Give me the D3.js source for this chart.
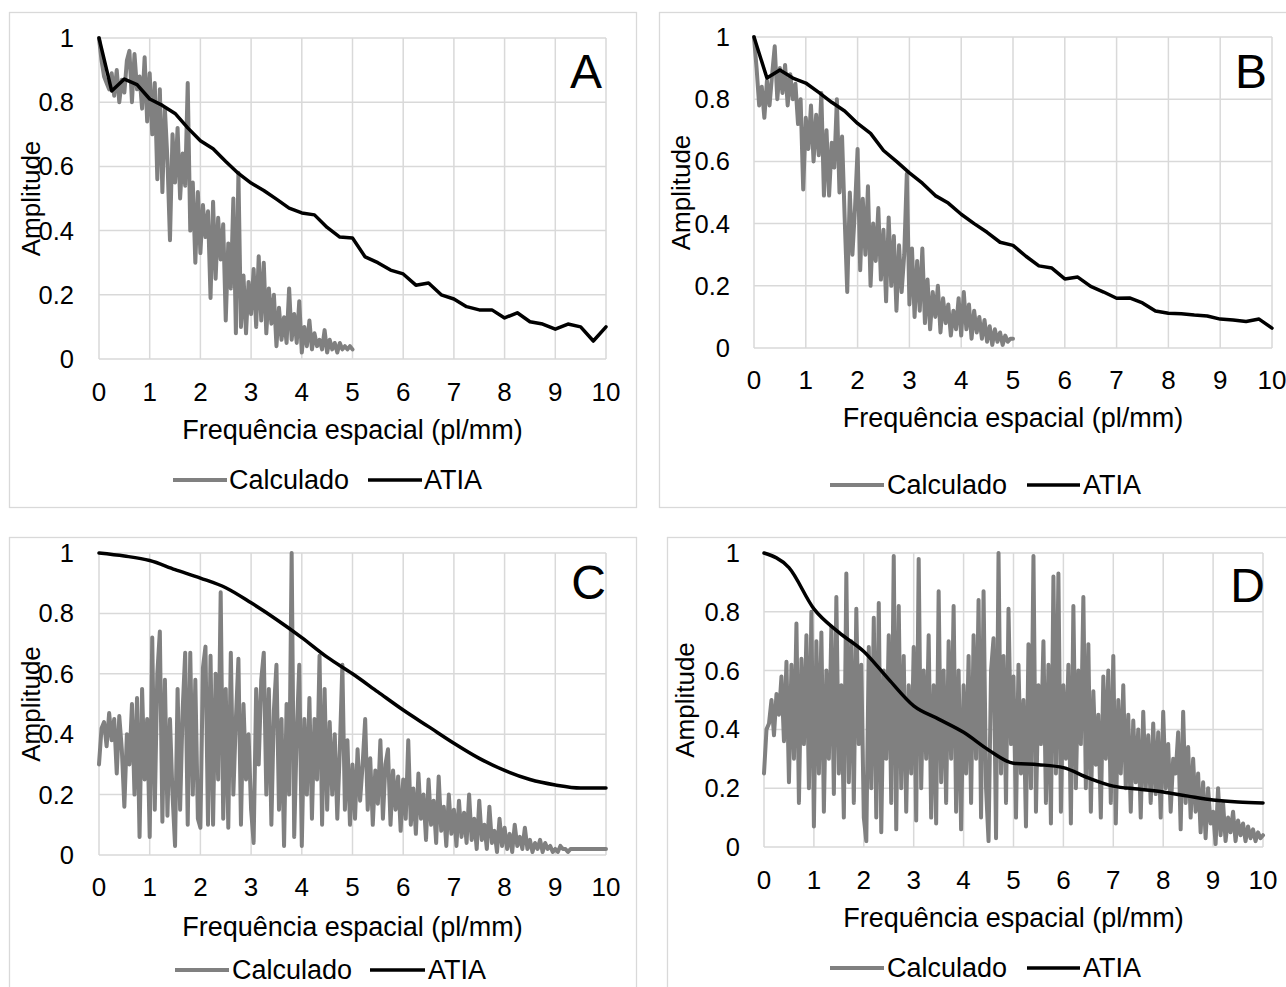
<!DOCTYPE html>
<html><head><meta charset="utf-8">
<script src="https://cdn.jsdelivr.net/npm/d3@7"></script>
<style>
html,body{margin:0;padding:0;background:#fff;}
svg{display:block;font-family:"Liberation Sans",Arial,sans-serif;}
</style></head>
<body>
<svg id="chart" width="1286" height="987"></svg>
<script>
// ---------- DATA ----------
const xTicks = [0,1,2,3,4,5,6,7,8,9,10];
const yTicks = [0,0.2,0.4,0.6,0.8,1];
const xTitle = "Frequência espacial (pl/mm)";
const yTitle = "Amplitude";
const seriesNames = ["Calculado","ATIA"];
const panelLetters = ["A","B","C","D"];

// ATIA curves
const atiaStepAB = 0.25;
const atiaA = [1.0,0.835,0.872,0.855,0.81,0.79,0.765,0.72,0.68,0.655,0.615,0.578,0.548,0.525,0.498,0.47,0.455,0.449,0.41,0.38,0.377,0.318,0.30,0.277,0.265,0.23,0.237,0.2,0.187,0.163,0.153,0.153,0.128,0.144,0.116,0.109,0.093,0.109,0.1,0.056,0.1];
const atiaB = [1.0,0.868,0.894,0.868,0.852,0.822,0.79,0.762,0.722,0.69,0.635,0.60,0.563,0.53,0.49,0.466,0.43,0.40,0.372,0.34,0.33,0.295,0.264,0.257,0.222,0.228,0.198,0.18,0.16,0.161,0.145,0.119,0.112,0.11,0.106,0.103,0.093,0.09,0.085,0.093,0.064];
const atiaStepCD = 0.5;
const atiaC = [1.0,0.99,0.975,0.945,0.917,0.885,0.835,0.78,0.72,0.655,0.6,0.54,0.48,0.425,0.37,0.32,0.28,0.25,0.232,0.222,0.222];
const atiaD = [1.0,0.95,0.81,0.73,0.665,0.57,0.48,0.435,0.39,0.33,0.285,0.28,0.27,0.235,0.207,0.197,0.187,0.173,0.16,0.153,0.15];

// Calculado curves (step 0.05)
const calcStep = 0.05;
const calcA = [1.00,0.93,0.88,0.86,0.84,0.89,0.82,0.90,0.80,0.87,0.83,0.93,0.96,0.80,0.95,0.84,0.88,0.78,0.94,0.74,
0.89,0.70,0.86,0.56,0.84,0.52,0.78,0.62,0.37,0.70,0.55,0.72,0.50,0.64,0.54,0.86,0.40,0.55,0.30,0.52,
0.33,0.48,0.38,0.46,0.19,0.49,0.25,0.44,0.31,0.42,0.12,0.36,0.22,0.50,0.08,0.58,0.10,0.26,0.08,0.24,
0.14,0.28,0.10,0.32,0.12,0.30,0.08,0.22,0.11,0.20,0.04,0.16,0.06,0.13,0.05,0.22,0.06,0.14,0.05,0.18,
0.02,0.10,0.04,0.12,0.03,0.08,0.04,0.06,0.03,0.09,0.02,0.06,0.03,0.05,0.02,0.05,0.03,0.04,0.03,0.04,0.03];
const calcB = [1.00,0.90,0.78,0.84,0.74,0.86,0.78,0.88,0.97,0.80,0.90,0.82,0.91,0.78,0.88,0.80,0.85,0.72,0.80,0.51,
0.74,0.64,0.78,0.60,0.75,0.62,0.82,0.49,0.70,0.49,0.66,0.58,0.80,0.50,0.68,0.42,0.18,0.50,0.30,0.45,
0.64,0.25,0.48,0.30,0.52,0.20,0.40,0.28,0.45,0.22,0.38,0.15,0.42,0.20,0.36,0.12,0.33,0.18,0.30,0.56,
0.14,0.32,0.10,0.28,0.12,0.32,0.08,0.22,0.06,0.18,0.10,0.20,0.05,0.16,0.08,0.14,0.04,0.12,0.06,0.16,
0.04,0.18,0.06,0.14,0.03,0.12,0.05,0.10,0.03,0.09,0.02,0.07,0.01,0.06,0.02,0.05,0.01,0.04,0.02,0.03,0.03];
const calcC = [0.30,0.42,0.44,0.36,0.47,0.38,0.45,0.27,0.46,0.35,0.16,0.40,0.30,0.50,0.20,0.52,0.06,0.55,0.25,0.45,
0.06,0.72,0.15,0.60,0.74,0.11,0.58,0.13,0.45,0.20,0.03,0.55,0.15,0.48,0.67,0.10,0.67,0.20,0.58,0.12,
0.09,0.62,0.69,0.10,0.66,0.10,0.60,0.25,0.87,0.12,0.55,0.09,0.67,0.20,0.45,0.65,0.10,0.50,0.25,0.40,
0.15,0.04,0.55,0.30,0.58,0.67,0.20,0.55,0.10,0.48,0.63,0.15,0.45,0.03,0.50,0.20,1.00,0.06,0.40,0.63,
0.03,0.45,0.20,0.52,0.12,0.45,0.25,0.66,0.10,0.55,0.15,0.44,0.20,0.40,0.12,0.35,0.63,0.15,0.38,0.10,
0.30,0.12,0.35,0.18,0.30,0.45,0.15,0.32,0.10,0.28,0.17,0.38,0.12,0.30,0.35,0.10,0.28,0.15,0.26,0.08,
0.25,0.12,0.38,0.10,0.22,0.07,0.27,0.12,0.20,0.05,0.25,0.10,0.18,0.04,0.26,0.08,0.16,0.03,0.20,0.07,
0.15,0.03,0.18,0.06,0.14,0.04,0.20,0.05,0.12,0.02,0.18,0.05,0.10,0.02,0.16,0.04,0.08,0.01,0.12,0.03,
0.09,0.02,0.07,0.01,0.10,0.03,0.06,0.02,0.09,0.02,0.05,0.01,0.04,0.02,0.05,0.01,0.04,0.02,0.03,0.01,
0.02,0.01,0.03,0.02,0.02,0.01,0.02,0.02,0.02,0.02,0.02,0.02,0.02,0.02,0.02,0.02,0.02,0.02,0.02,0.02,0.02];
const calcD = [0.25,0.40,0.42,0.50,0.38,0.52,0.45,0.58,0.36,0.63,0.22,0.62,0.30,0.76,0.15,0.64,0.35,0.72,0.20,0.80,
0.07,0.70,0.25,0.73,0.12,0.60,0.30,0.75,0.18,0.85,0.25,0.55,0.10,0.93,0.22,0.70,0.15,0.81,0.35,0.62,
0.10,0.02,0.68,0.20,0.78,0.10,0.83,0.05,0.60,0.30,0.72,0.15,0.99,0.06,0.82,0.20,0.65,0.12,0.55,0.25,
0.68,0.09,0.98,0.20,0.60,0.30,0.72,0.10,0.55,0.08,0.87,0.22,0.60,0.15,0.70,0.30,0.82,0.12,0.60,0.06,
0.55,0.25,0.65,0.15,0.72,0.30,0.84,0.10,0.87,0.20,0.02,0.60,0.71,0.03,1.00,0.25,0.65,0.15,0.81,0.35,
0.58,0.10,0.62,0.25,0.50,0.07,0.69,0.20,0.99,0.12,0.55,0.35,0.70,0.15,0.62,0.08,0.92,0.25,0.93,0.12,
0.55,0.30,0.62,0.08,0.82,0.20,0.60,0.35,0.85,0.20,0.69,0.12,0.53,0.28,0.45,0.10,0.58,0.30,0.60,0.15,
0.65,0.08,0.50,0.25,0.55,0.20,0.45,0.12,0.43,0.22,0.40,0.10,0.46,0.20,0.38,0.15,0.42,0.18,0.39,0.10,
0.46,0.20,0.35,0.12,0.30,0.25,0.39,0.06,0.46,0.15,0.34,0.10,0.30,0.12,0.25,0.05,0.22,0.03,0.20,0.08,
0.12,0.01,0.20,0.04,0.15,0.02,0.10,0.05,0.12,0.02,0.09,0.04,0.08,0.02,0.07,0.03,0.06,0.02,0.05,0.03,0.04];

// ---------- LAYOUT ----------
const panels = [
  {letter:"A", calc:calcA, atia:atiaA, atiaStep:atiaStepAB, smooth:false,
   box:[9,12,627,495], plot:{l:99,r:606,t:38,b:359}, yLabRight:74, xTickY:392, xTitleY:430, yTitleX:31,
   legY:480, leg:[173,227,229,368,422,424], letterX:602, letterY:88},
  {letter:"B", calc:calcB, atia:atiaB, atiaStep:atiaStepAB, smooth:false,
   box:[659,12,640,495], plot:{l:754,r:1272,t:37,b:348}, yLabRight:730, xTickY:380, xTitleY:418, yTitleX:681,
   legY:485, leg:[830,884,887,1027,1080,1083], letterX:1267, letterY:88},
  {letter:"C", calc:calcC, atia:atiaC, atiaStep:atiaStepCD, smooth:true,
   box:[9,537,627,470], plot:{l:99,r:606,t:553,b:855}, yLabRight:74, xTickY:887, xTitleY:927, yTitleX:31,
   legY:970, leg:[175,229,232,370,425,428], letterX:606, letterY:599},
  {letter:"D", calc:calcD, atia:atiaD, atiaStep:atiaStepCD, smooth:true,
   box:[667,537,640,470], plot:{l:764,r:1263,t:553,b:847}, yLabRight:740, xTickY:880, xTitleY:918, yTitleX:685,
   legY:968, leg:[830,884,887,1027,1080,1083], letterX:1265, letterY:602}
];

const svg = d3.select("#chart");
const GRID = "#d9d9d9", GRAY = "#808080", BLACK = "#000000";
const fmt = d => d3.format("~g")(d);

panels.forEach(p => {
  const g = svg.append("g");
  g.append("rect").attr("x",p.box[0]+0.5).attr("y",p.box[1]+0.5).attr("width",p.box[2]).attr("height",p.box[3])
    .attr("fill","#fff").attr("stroke",GRID).attr("stroke-width",1.3);

  const x = d3.scaleLinear().domain([0,10]).range([p.plot.l,p.plot.r]);
  const y = d3.scaleLinear().domain([0,1]).range([p.plot.b,p.plot.t]);

  // grid
  g.append("g").selectAll("line").data(xTicks).join("line")
    .attr("x1",d=>x(d)).attr("x2",d=>x(d)).attr("y1",y(0)).attr("y2",y(1))
    .attr("stroke",GRID).attr("stroke-width",1.5);
  g.append("g").selectAll("line").data(yTicks).join("line")
    .attr("y1",d=>y(d)).attr("y2",d=>y(d)).attr("x1",x(0)).attr("x2",x(10))
    .attr("stroke",GRID).attr("stroke-width",1.5);

  // tick labels
  g.append("g").selectAll("text").data(xTicks).join("text")
    .attr("x",d=>x(d)).attr("y",p.xTickY).attr("dy","0.35em").attr("text-anchor","middle")
    .attr("font-size",26).attr("fill","#000").text(fmt);
  g.append("g").selectAll("text").data(yTicks).join("text")
    .attr("x",p.yLabRight).attr("y",d=>y(d)).attr("dy","0.35em").attr("text-anchor","end")
    .attr("font-size",25.5).attr("fill","#000").text(fmt);

  // axis titles
  g.append("text").attr("x",(x(0)+x(10))/2).attr("y",p.xTitleY).attr("dy","0.35em").attr("text-anchor","middle")
    .attr("font-size",27).attr("fill","#000").text(xTitle);
  g.append("text").attr("transform",`translate(${p.yTitleX},${(y(0)+y(1))/2}) rotate(-90)`)
    .attr("dy","0.35em").attr("text-anchor","middle").attr("font-size",26).attr("fill","#000").text(yTitle);

  // series
  const calcPts = p.calc.map((v,i)=>[i*calcStep, v]);
  const atiaPts = p.atia.map((v,i)=>[i*p.atiaStep, v]);
  const line = d3.line().x(d=>x(d[0])).y(d=>y(d[1]));
  g.append("path").datum(calcPts).attr("d",line).attr("fill","none").attr("stroke",GRAY)
    .attr("stroke-width",4).attr("stroke-linejoin","round").attr("stroke-linecap","round");
  const lineA = d3.line().x(d=>x(d[0])).y(d=>y(d[1])).curve(p.smooth ? d3.curveMonotoneX : d3.curveLinear);
  g.append("path").datum(atiaPts).attr("d",lineA).attr("fill","none").attr("stroke",BLACK)
    .attr("stroke-width",3.5).attr("stroke-linejoin","round").attr("stroke-linecap","round");

  // letter
  g.append("text").attr("x",p.letterX).attr("y",p.letterY).attr("text-anchor","end")
    .attr("font-size",48).attr("fill","#000").text(p.letter);

  // legend
  const L = p.leg;
  g.append("line").attr("x1",L[0]).attr("x2",L[1]).attr("y1",p.legY).attr("y2",p.legY)
    .attr("stroke",GRAY).attr("stroke-width",4);
  g.append("text").attr("x",L[2]).attr("y",p.legY).attr("dy","0.35em").attr("font-size",27).attr("fill","#000").text(seriesNames[0]);
  g.append("line").attr("x1",L[3]).attr("x2",L[4]).attr("y1",p.legY).attr("y2",p.legY)
    .attr("stroke",BLACK).attr("stroke-width",3.5);
  g.append("text").attr("x",L[5]).attr("y",p.legY).attr("dy","0.35em").attr("font-size",27).attr("fill","#000").text(seriesNames[1]);
});
</script>
</body></html>
